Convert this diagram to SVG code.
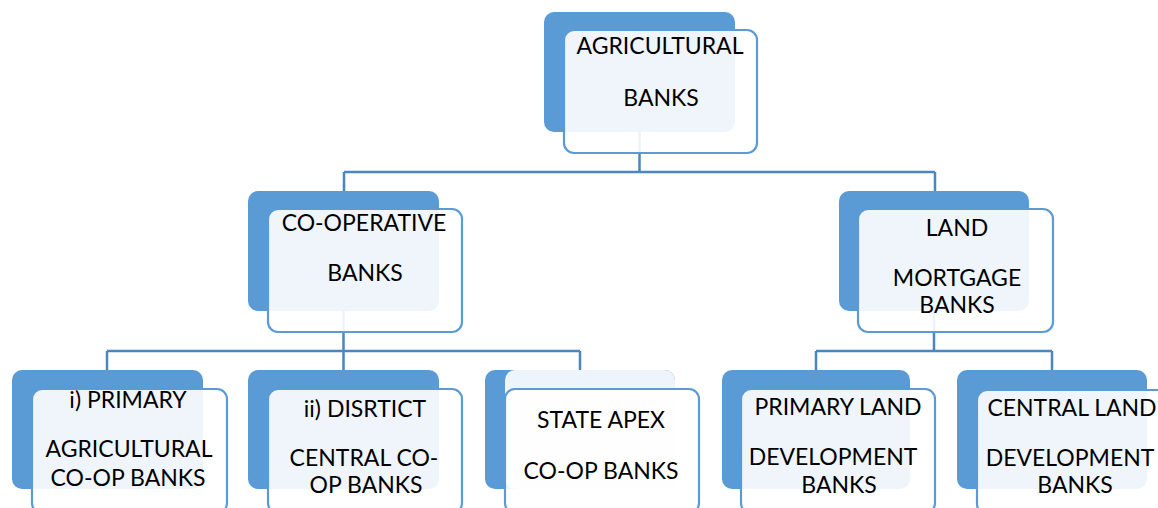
<svg xmlns="http://www.w3.org/2000/svg" width="1158" height="508" viewBox="0 0 1158 508">
<style>
.back{fill:#5b9bd5;}
.front{fill:#ffffff;fill-opacity:0.9;stroke:#5b9bd5;stroke-width:2.2;}
.lite{fill:#eef4fb;}
.conn{fill:none;stroke:#4a86c0;stroke-width:2.5;}
text{font-family:Lato,"Open Sans","Liberation Sans",sans-serif;font-size:23px;fill:#000;text-anchor:middle;}
</style>
<rect width="1158" height="508" fill="#ffffff"/>
<g id="connectors">
<path class="conn" d="M639.5 131 V172 M344 172 H935 M344 172 V191 M935 172 V191"/>
<path class="conn" d="M343.5 311 V351 M107 351 H580 M107 351 V370 M343.5 351 V370 M580 351 V370"/>
<path class="conn" d="M934 311 V351 M816 351 H1052 M816 351 V370 M1052 351 V370"/>
</g>
<g id="n-agri">
<rect class="back" x="544" y="12" width="191" height="120" rx="10"/>
<rect class="front" x="564" y="30" width="193" height="123" rx="10"/>
<text x="660" y="54">AGRICULTURAL</text>
<text x="661" y="106">BANKS</text>
</g>
<g id="n-coop">
<rect class="back" x="248" y="191" width="191" height="120" rx="10"/>
<rect class="front" x="268" y="209" width="194" height="123" rx="10"/>
<text x="364" y="231">CO-OPERATIVE</text>
<text x="365" y="281">BANKS</text>
</g>
<g id="n-land">
<rect class="back" x="839" y="191" width="190" height="120" rx="10"/>
<rect class="front" x="858" y="209" width="195" height="123" rx="10"/>
<text x="957" y="236">LAND</text>
<text x="957" y="286">MORTGAGE</text>
<text x="957" y="313">BANKS</text>
</g>
<g id="n-pacb">
<rect class="back" x="12" y="370" width="191" height="119" rx="10"/>
<rect class="front" x="32" y="389" width="195" height="124" rx="10"/>
<text x="128" y="408">i) PRIMARY</text>
<text x="129" y="457">AGRICULTURAL</text>
<text x="128" y="486">CO-OP BANKS</text>
</g>
<g id="n-dccb">
<rect class="back" x="248" y="370" width="191" height="119" rx="10"/>
<rect class="front" x="268" y="389" width="194" height="124" rx="10"/>
<text x="365" y="417">ii) DISRTICT</text>
<text x="364" y="466">CENTRAL CO-</text>
<text x="366" y="493">OP BANKS</text>
</g>
<g id="n-scb">
<rect class="back" x="485" y="370" width="190" height="119" rx="10"/>
<rect class="lite" x="505" y="370" width="170" height="119" rx="10"/>
<rect class="front" x="505" y="389" width="194" height="124" rx="10"/>
<text x="601" y="428">STATE APEX</text>
<text x="601" y="479">CO-OP BANKS</text>
</g>
<g id="n-pldb">
<rect class="back" x="722" y="370" width="188" height="119" rx="10"/>
<rect class="front" x="741" y="389" width="194" height="124" rx="10"/>
<text x="838" y="415">PRIMARY LAND</text>
<text x="833" y="465">DEVELOPMENT</text>
<text x="839" y="493">BANKS</text>
</g>
<g id="n-cldb">
<rect class="back" x="957" y="370" width="190" height="119" rx="10"/>
<rect class="front" x="977" y="390" width="194" height="124" rx="10"/>
<text x="1072" y="416">CENTRAL LAND</text>
<text x="1070" y="466">DEVELOPMENT</text>
<text x="1075" y="493">BANKS</text>
</g>
</svg>
